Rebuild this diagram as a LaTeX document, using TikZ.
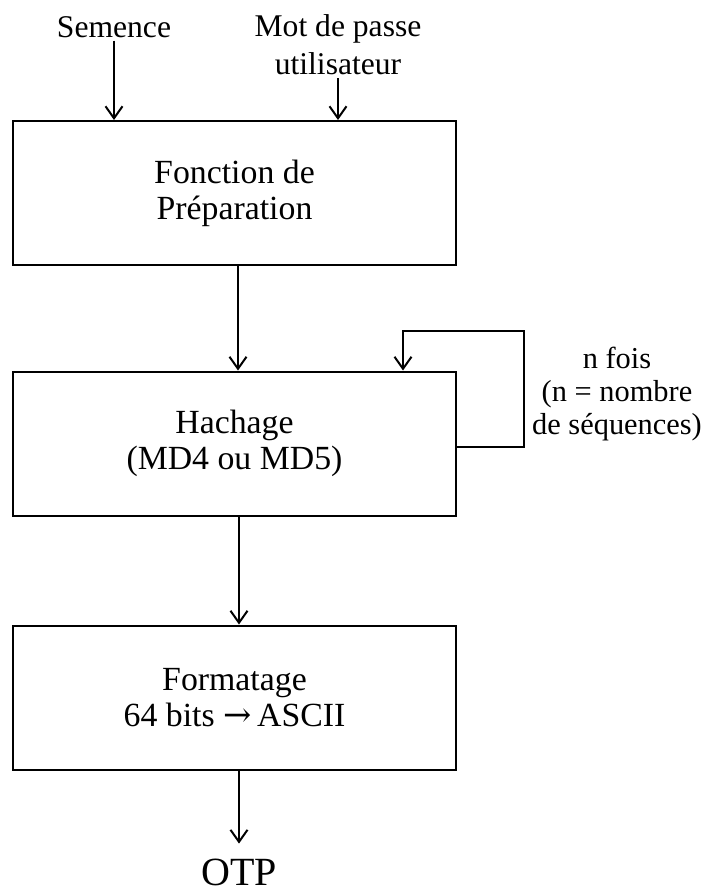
\documentclass[tikz,border=0pt]{standalone}
\usepackage{fontspec}
\usepackage{tikz}
\usetikzlibrary{arrows.meta, positioning}
\setmainfont{Liberation Serif}
\newfontfamily\arrowfont{DejaVu Serif}

\begin{document}
\begin{tikzpicture}[
    x=0.5pt, y=-0.5pt,
    >={Straight Barb[length=6pt, width=8.5pt]},
    line width=1pt,
    every node/.style={font=\fontsize{15.8}{18}\selectfont, align=center},
    stage/.style={rectangle, draw, line width=1pt, minimum width=221.5pt,
                  minimum height=72pt, inner sep=0pt,
                  font=\fontsize{16.9}{18}\selectfont},
    label/.style={inner sep=1pt},
  ]
  \useasboundingbox (0,0) rectangle (702,894);

  % inputs
  \node[label] (seed) at (114, 27) {Semence};
  \node[label, font=\fontsize{15.8}{19}\selectfont] (pwd) at (338, 45)
       {Mot de passe\\utilisateur};

  % stages
  \node[stage] (prep) at (234.5, 193) {Fonction de\\Préparation};
  \node[stage] (hash) at (234.5, 443.5) {Hachage\\(MD4 ou MD5)};
  \node[stage] (fmt) at (234.5, 697.5) {Formatage\\64 bits {\arrowfont→}\,ASCII};
  \node[font=\fontsize{20}{22}\selectfont, inner sep=7pt] (otp) at (239, 872) {OTP};

  % loop label
  \node[label, font=\fontsize{15.2}{16.5}\selectfont] (times) at (617, 394)
       {n fois\\(n = nombre\\de séquences)};
  \coordinate (loop) at (524, 331);

  \draw[->] (seed) -- (seed |- prep.north);
  \draw[->] (pwd) -- (pwd |- prep.north);
  \draw[->] (prep.south -| 238, 0) -- (hash.north -| 238, 0);
  \draw[->] (hash.south -| 239, 0) -- (fmt.north -| 239, 0);
  \draw[->] (fmt.south -| otp) -- (otp);
  \draw[->] (hash.east |- 0, 447) -| (loop) -| (hash.north -| 403, 0);
\end{tikzpicture}
\end{document}
